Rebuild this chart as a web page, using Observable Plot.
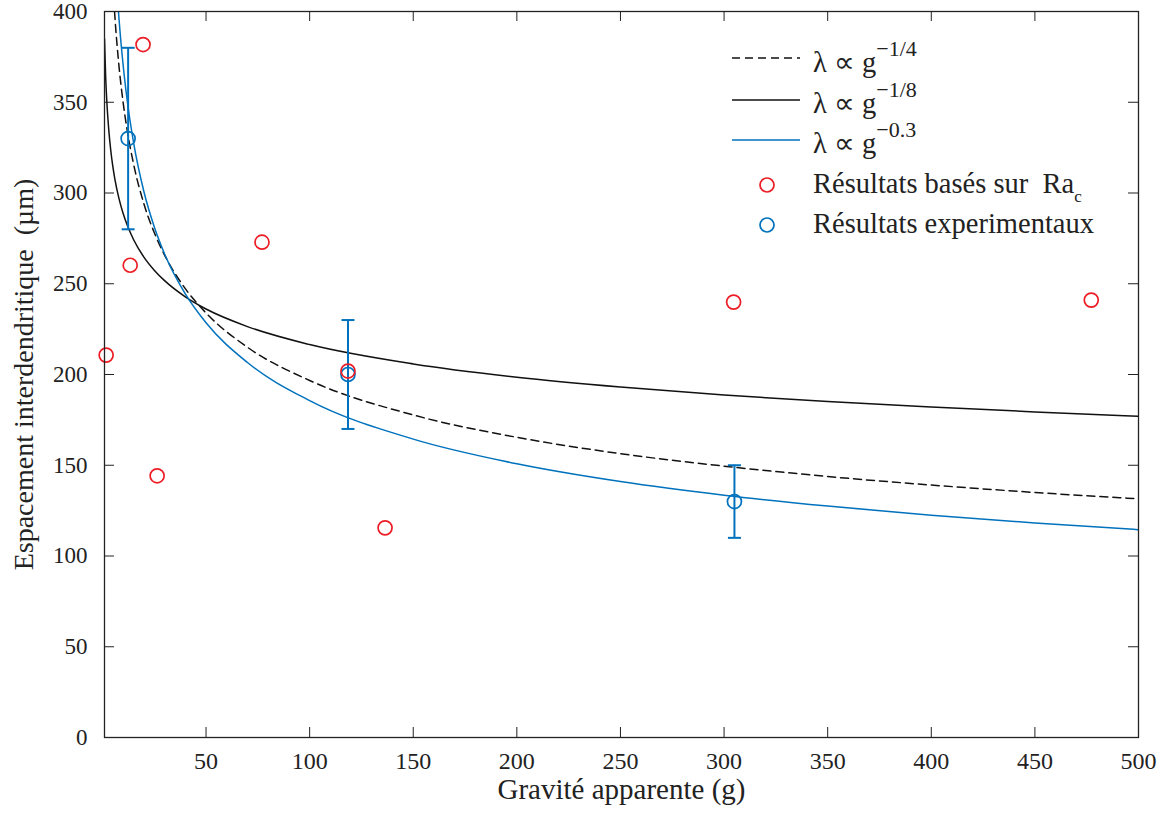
<!DOCTYPE html>
<html>
<head>
<meta charset="utf-8">
<script src="https://cdn.jsdelivr.net/npm/d3@7"></script>
<script src="https://cdn.jsdelivr.net/npm/@observablehq/plot@0.6"></script>
<style>
  html, body { margin: 0; padding: 0; background: white; }
  #wrap { position: relative; width: 1163px; height: 821px; }
  #wrap > svg { position: absolute; left: 0; top: 0; }
</style>
</head>
<body>
<div id="wrap"></div>
<script>
// Apparent gravity (g) sample positions for the three curves
const gx = [1, 1.5, 2, 3, 4, 5, 6, 8, 10, 12, 15, 20, 25, 30, 40, 50, 70, 100, 150, 200, 250, 300, 350, 400, 450, 500];
// λ ∝ g^-1/4 (dashed)
const lamQuart = [622, 562.0, 523.0, 472.6, 439.8, 416.0, 397.4, 369.8, 349.8, 334.2, 316.1, 294.1, 278.2, 265.8, 247.3, 233.9, 215.0, 196.7, 177.7, 165.4, 156.4, 149.5, 143.8, 139.1, 135.0, 131.5];
// λ ∝ g^-1/8 (solid black)
const lamEighth = [385, 366.0, 353.0, 335.6, 323.7, 314.8, 307.7, 296.9, 288.7, 282.2, 274.4, 264.7, 257.5, 251.7, 242.8, 236.1, 226.4, 216.5, 205.8, 198.5, 193.1, 188.7, 185.1, 182.1, 179.4, 177.0];
// λ ∝ g^-0.3 (blue)
const lamPt3 = [739, 654.4, 600.3, 531.5, 487.6, 456.0, 431.7, 396.0, 370.4, 350.7, 328.0, 300.8, 281.4, 266.4, 244.4, 228.5, 206.6, 185.6, 164.4, 150.8, 141.0, 133.5, 127.5, 122.5, 118.2, 114.5];

// Résultats basés sur Ra_c
const raX = [1.8, 19.6, 13.4, 26.4, 77.0, 118.5, 136.4, 304.6, 477.2];
const raY = [210.7, 381.8, 260.2, 144.2, 272.9, 201.9, 115.5, 239.9, 241.0];

// Résultats expérimentaux
const expX = [12.4, 118.5, 305];
const expY = [330, 200, 130];
const expLo = [280, 170, 110];
const expHi = [380, 230, 150];

const xTicks = [50, 100, 150, 200, 250, 300, 350, 400, 450, 500];
const yTicks = [0, 50, 100, 150, 200, 250, 300, 350, 400];

const legendLabels = ["λ ∝ g", "λ ∝ g", "λ ∝ g", "Résultats basés sur\u00a0 Ra", "Résultats experimentaux"];
const legendSups = ["−1/4", "−1/8", "−0.3"];

const RED = "#ec1c24";
const BLUE = "#0072bd";

const W = 1163, H = 821;
const mL = 104, mR = 25, mT = 11, mB = 84;
const fw = W - mL - mR, fh = H - mT - mB;

const mk = (ys) => gx.map((x, i) => ({x, y: ys[i]}));
const pts = raX.map((x, i) => ({x, y: raY[i]}));
const exps = expX.map((x, i) => ({x, y: expY[i], lo: expLo[i], hi: expHi[i]}));

const capSymbol = {
  draw(ctx, size) {
    const r = Math.sqrt(size / Math.PI);
    ctx.moveTo(-r, 0);
    ctx.lineTo(r, 0);
  }
};

const chart = Plot.plot({
  width: W, height: H,
  marginLeft: mL, marginRight: mR, marginTop: mT, marginBottom: mB,
  x: {domain: [1, 500]},
  y: {domain: [0, 400]},
  style: {fontFamily: "'Liberation Serif', serif", fontSize: "24px", color: "#222", background: "white"},
  marks: [
    Plot.line(mk(lamQuart), {x: "x", y: "y", stroke: "#111", strokeWidth: 1.5, strokeDasharray: "8,5", curve: "monotone-x", clip: true}),
    Plot.line(mk(lamEighth), {x: "x", y: "y", stroke: "#111", strokeWidth: 1.5, curve: "monotone-x", clip: true}),
    Plot.line(mk(lamPt3), {x: "x", y: "y", stroke: BLUE, strokeWidth: 1.5, curve: "monotone-x", clip: true}),
    Plot.ruleX(exps, {x: "x", y1: "lo", y2: "hi", stroke: BLUE, strokeWidth: 2}),
    Plot.dot(exps, {x: "x", y: "lo", symbol: capSymbol, r: 6.5, stroke: BLUE, strokeWidth: 2}),
    Plot.dot(exps, {x: "x", y: "hi", symbol: capSymbol, r: 6.5, stroke: BLUE, strokeWidth: 2}),
    Plot.dot(exps, {x: "x", y: "y", r: 7, stroke: BLUE, strokeWidth: 1.7, fill: "none"}),
    Plot.dot(pts, {x: "x", y: "y", r: 7, stroke: RED, strokeWidth: 1.7, fill: "none"}),
    Plot.tickX(xTicks, {x: d => d, insetTop: fh - 10, stroke: "#222"}),
    Plot.tickX(xTicks, {x: d => d, insetBottom: fh - 10, stroke: "#222"}),
    Plot.tickY(yTicks, {y: d => d, insetRight: fw - 10, stroke: "#222"}),
    Plot.tickY(yTicks, {y: d => d, insetLeft: fw - 10, stroke: "#222"}),
    Plot.frame({stroke: "#222", strokeWidth: 1.3}),
    Plot.axisX({ticks: xTicks, tickSize: 0, tickPadding: 14, label: null, fontSize: 24}),
    Plot.axisY({ticks: yTicks, tickSize: 0, tickPadding: 17, label: null, fontSize: 23}),
    Plot.text(["Gravité apparente (g)"], {frameAnchor: "bottom", dy: 52, textAnchor: "middle", lineAnchor: "middle", fontSize: 29, fill: "#222"}),
    Plot.text(["Espacement interdendritique  (µm)"], {frameAnchor: "left", dx: -80, rotate: -90, textAnchor: "middle", lineAnchor: "middle", fontSize: 28, fill: "#222"})
  ]
});
document.getElementById("wrap").appendChild(chart);

// Legend (inside the plot area, top right)
const leg = d3.select("#wrap").append("svg")
  .attr("width", W).attr("height", H)
  .style("pointer-events", "none")
  .style("font-family", "'Liberation Serif', serif")
  .style("font-size", "28.5px")
  .style("fill", "#222");

const lineRows = [
  {y: 58, stroke: "#111", dash: "8,5", base: 72},
  {y: 100, stroke: "#111", dash: null, base: 113},
  {y: 140, stroke: BLUE, dash: null, base: 153}
];
lineRows.forEach((r, i) => {
  leg.append("line").attr("x1", 732).attr("x2", 800).attr("y1", r.y).attr("y2", r.y)
    .attr("stroke", r.stroke).attr("stroke-width", 1.5)
    .attr("stroke-dasharray", r.dash);
  const t = leg.append("text").attr("x", 813).attr("y", r.base);
  t.append("tspan").text(legendLabels[i]);
  t.append("tspan").attr("dy", -16).style("font-size", "22px").text(legendSups[i]);
});

leg.append("circle").attr("cx", 767).attr("cy", 185).attr("r", 7)
  .attr("fill", "none").attr("stroke", RED).attr("stroke-width", 1.7);
const t4 = leg.append("text").attr("x", 813).attr("y", 193);
t4.append("tspan").text(legendLabels[3]);
t4.append("tspan").attr("dy", 9).style("font-size", "17px").text("c");

leg.append("circle").attr("cx", 767).attr("cy", 225).attr("r", 7)
  .attr("fill", "none").attr("stroke", BLUE).attr("stroke-width", 1.7);
leg.append("text").attr("x", 813).attr("y", 233).text(legendLabels[4]);
</script>
</body>
</html>
